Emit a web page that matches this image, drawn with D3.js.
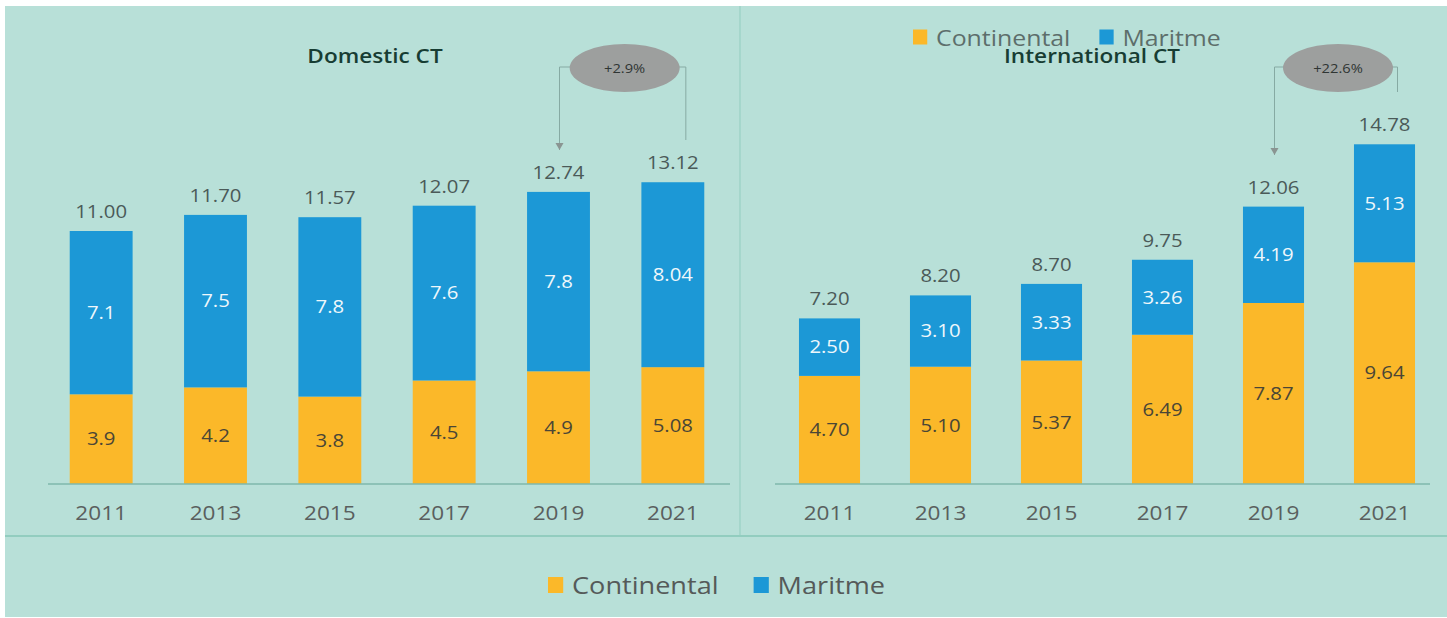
<!DOCTYPE html>
<html><head><meta charset="utf-8">
<script src="https://cdn.jsdelivr.net/npm/d3@7"></script>
<style>html,body{margin:0;padding:0;background:#fff;}svg{display:block;}</style>
</head><body>
<svg id="chart" width="1447" height="618"></svg>
<script>
const years = ["2011","2013","2015","2017","2019","2021"];
const domContinental = [3.9, 4.2, 3.8, 4.5, 4.9, 5.08];
const domMaritime    = [7.1, 7.5, 7.8, 7.6, 7.8, 8.04];
const domTotals      = ["11.00","11.70","11.57","12.07","12.74","13.12"];
const domContLabels  = ["3.9","4.2","3.8","4.5","4.9","5.08"];
const domMarLabels   = ["7.1","7.5","7.8","7.6","7.8","8.04"];
const intContinental = [4.70, 5.10, 5.37, 6.49, 7.87, 9.64];
const intMaritime    = [2.50, 3.10, 3.33, 3.26, 4.19, 5.13];
const intTotals      = ["7.20","8.20","8.70","9.75","12.06","14.78"];
const intContLabels  = ["4.70","5.10","5.37","6.49","7.87","9.64"];
const intMarLabels   = ["2.50","3.10","3.33","3.26","4.19","5.13"];
const seriesNames = ["Continental","Maritme"];
const colors = ["#FBB829","#1C98D6"];
const domAnnot = {text:"+2.9%", from:"2019", to:"2021"};
const intAnnot = {text:"+22.6%", from:"2019", to:"2021"};

const svg = d3.select("#chart");
const FONT = "'Open Sans', Lato, sans-serif";
const S = 1.13; // horizontal stretch of the reference's text
function stretch(sel){
  sel.each(function(){
    const t = d3.select(this);
    const x = +t.attr("x") || 0, yy = +t.attr("y") || 0;
    t.attr("x",0).attr("y",0).attr("transform",`translate(${x},${yy}) scale(${S},1)`);
  });
  return sel;
}
svg.append("rect").attr("x",5).attr("y",6).attr("width",1442).attr("height",611).attr("fill","#B8E0D8");
svg.append("line").attr("x1",5).attr("x2",1447).attr("y1",536).attr("y2",536).attr("stroke","#92CDBF").attr("stroke-width",2);
svg.append("line").attr("x1",740).attr("x2",740).attr("y1",6).attr("y2",536).attr("stroke","#92CDBF").attr("stroke-width",1);

const y = d3.scaleLinear().domain([0, 10]).range([484, 254]);

function panel(opts){
  const x = d3.scaleBand().domain(years).range(opts.range).paddingInner(0.45).paddingOuter(0.225);
  const g = svg.append("g");
  const stackData = years.map((yr,i)=>({year:yr, Continental:opts.cont[i], Maritme:opts.mar[i]}));
  const stacked = d3.stack().keys(seriesNames)(stackData);
  const labelSets = [opts.contLabels, opts.marLabels];
  const labelColors = ["#4a4636","#eef7fb"];
  stacked.forEach((layer,li)=>{
    g.selectAll(null).data(layer).enter().append("rect")
      .attr("x",d=>x(d.data.year)).attr("width",x.bandwidth())
      .attr("y",d=>y(d[1])).attr("height",d=>y(d[0])-y(d[1]))
      .attr("fill",colors[li]);
    stretch(g.selectAll(null).data(layer).enter().append("text")
      .attr("x",d=>x(d.data.year)+x.bandwidth()/2)
      .attr("y",d=>(y(d[0])+y(d[1]))/2)
      .attr("dy","0.35em").attr("text-anchor","middle")
      .attr("font-family",FONT).attr("font-size",18)
      .attr("fill",labelColors[li])
      .text((d,i)=>labelSets[li][i]));
  });
  const top = stacked[1];
  stretch(g.selectAll(null).data(top).enter().append("text")
    .attr("x",d=>x(d.data.year)+x.bandwidth()/2)
    .attr("y",d=>y(d[1])-13)
    .attr("text-anchor","middle").attr("font-family",FONT).attr("font-size",18)
    .attr("fill","#4b5a58")
    .text((d,i)=>opts.totals[i]));
  const ax = g.append("g").attr("transform","translate(0,484)")
    .call(d3.axisBottom(x).tickSize(0).tickPadding(22));
  ax.select(".domain").remove();
  g.append("line").attr("x1",opts.base[0]).attr("x2",opts.base[1]).attr("y1",484).attr("y2",484)
    .attr("stroke","#7fb9ad").attr("stroke-width",1.5);
  ax.selectAll("text").attr("font-family",FONT).attr("font-size",20).attr("fill","#5a5f5e");
  stretch(ax.selectAll("text"));
  stretch(g.append("text").attr("x",opts.titleX).attr("y",63).attr("text-anchor","middle")
    .attr("font-family",FONT).attr("font-weight",600).attr("font-size",20)
    .attr("fill","#173d33").text(opts.title));
  const a = opts.annot;
  const xl = x(a.from)+x.bandwidth()/2+1;
  const xr = x(a.to)+x.bandwidth()/2+13;
  const cx = (xl+xr)/2+2;
  const lc = "#86aaa3";
  g.append("path").attr("d",`M${xl},${opts.arrowY} V67 H${cx-50}`).attr("fill","none").attr("stroke",lc).attr("stroke-width",1);
  g.append("path").attr("d",`M${xr},${opts.rightY} V67 H${cx+50}`).attr("fill","none").attr("stroke",lc).attr("stroke-width",1);
  g.append("path").attr("d",`M${xl-4},${opts.arrowY-7} L${xl+4},${opts.arrowY-7} L${xl},${opts.arrowY} Z`).attr("fill","#8a9592");
  g.append("ellipse").attr("cx",cx).attr("cy",68).attr("rx",55).attr("ry",24).attr("fill","#9d9f9e");
  stretch(g.append("text").attr("x",cx).attr("y",68).attr("dy","0.35em").attr("text-anchor","middle")
    .attr("font-family",FONT).attr("font-size",13).attr("fill","#2f3533").text(a.text));
}

panel({range:[44,730], base:[48,730], cont:domContinental, mar:domMaritime, totals:domTotals,
  contLabels:domContLabels, marLabels:domMarLabels, title:"Domestic CT", titleX:375,
  annot:domAnnot, arrowY:150, rightY:140});
panel({range:[774,1440], base:[775,1430], cont:intContinental, mar:intMaritime, totals:intTotals,
  contLabels:intContLabels, marLabels:intMarLabels, title:"International CT", titleX:1092,
  annot:intAnnot, arrowY:155, rightY:92});

function legend(x0, yc, size, gap, fill){
  const lg = svg.append("g");
  let xx = x0;
  seriesNames.forEach((n,i)=>{
    lg.append("rect").attr("x",xx).attr("y",yc-size/2-1).attr("width",size*0.95).attr("height",size).attr("fill",colors[i]);
    const t = lg.append("text").attr("x",xx+size+8).attr("y",yc).attr("dy","0.35em")
      .attr("font-family",FONT).attr("font-size",fill.fs).attr("fill",fill.c).text(n);
    const w = t.node().getComputedTextLength()*S;
    stretch(t);
    xx += size + 8 + w + gap;
  });
}
legend(913, 38, 15, 29, {fs:22, c:"#5d6e6b"});
legend(548, 586, 16, 35, {fs:24, c:"#555a59"});
</script>
</body></html>
